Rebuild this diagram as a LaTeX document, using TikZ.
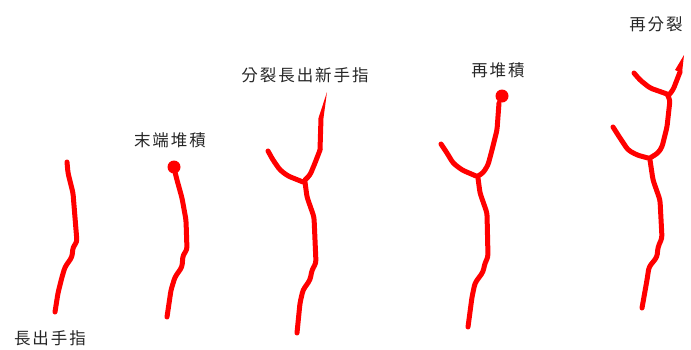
\documentclass[tikz,border=0pt]{standalone}
\usepackage{fontspec}
\newfontfamily\cjk[LetterSpace=12]{Noto Sans CJK TC}
\begin{document}
\begin{tikzpicture}[x=1pt,y=-1pt,
  finger/.style={draw=red,line width=5pt,line cap=round,line join=round,rounded corners=3pt},
  tipblob/.style={fill=red,draw=none},
  caption/.style={font=\cjk\fontsize{16.5}{16.5}\selectfont,text=black!85,inner sep=0pt}]
\useasboundingbox (0,0) rectangle (691,349);

% stage 1: a single finger
\draw[finger] (67,162) -- (68,173) -- (73,193) -- (77,242) -- (73,247) -- (72,257)
  -- (65,267) -- (62,277) -- (58,293) -- (55,312);
\node[caption] (t1) at (50,338) {長出手指};

% stage 2: material piles up at the tip
\draw[finger] (175,172) -- (177,180) -- (182,198) -- (186,220) -- (187,250) -- (183,255)
  -- (182,267) -- (175,277) -- (171,290) -- (167,317);
\fill[tipblob] (174,167) circle (6.5);
\node[caption] (t2) at (170,140) {末端堆積};

% stage 3: the tip splits and a new finger grows
\draw[finger] (297,333) -- (300,303) -- (303,290) -- (310,280) -- (312,270) -- (316,263)
  -- (314,217) -- (307,197) -- (305,182);
\draw[finger] (268,151) -- (273,160) -- (280,170) -- (288,176) -- (303,182);
\draw[finger] (305,180) -- (310,175) -- (315,163) -- (320,150);
\fill[red] (317.5,150) -- (318.5,118) -- (327,92) -- (323.5,118) -- (322.5,150) -- cycle;
\node[caption] (t3) at (305,75) {分裂長出新手指};

% stage 4: piling up again
\draw[finger] (468,327) -- (472,297) -- (475,283) -- (483,272) -- (485,263) -- (488,257)
  -- (487,213) -- (480,193) -- (478,178);
\draw[finger] (441,144) -- (447,153) -- (453,163) -- (462,170) -- (476,176);
\draw[finger] (478,176) -- (483,173) -- (488,165) -- (492,150) -- (497,130) -- (499,103);
\fill[tipblob] (502,96) circle (6.5);
\node[caption] (t4) at (498,70) {再堆積};

% stage 5: a second split
\draw[finger] (642,308) -- (647,280) -- (649,267) -- (657,257) -- (658,247) -- (662,238)
  -- (660,200) -- (653,180) -- (650,160);
\draw[finger] (613,127) -- (620,138) -- (628,150) -- (637,155) -- (648,158);
\draw[finger] (650,158) -- (658,153) -- (662,147) -- (667,127) -- (670,100) -- (668,96);
\draw[finger] (634,73) -- (640,80) -- (650,88) -- (667,94);
\draw[finger] (668,96) -- (673,90) -- (680,72);
\fill[red] (684,55) -- (675,70) -- (682,73) -- cycle;
\node[caption] (t5) at (656,24) {再分裂};
\end{tikzpicture}
\end{document}
